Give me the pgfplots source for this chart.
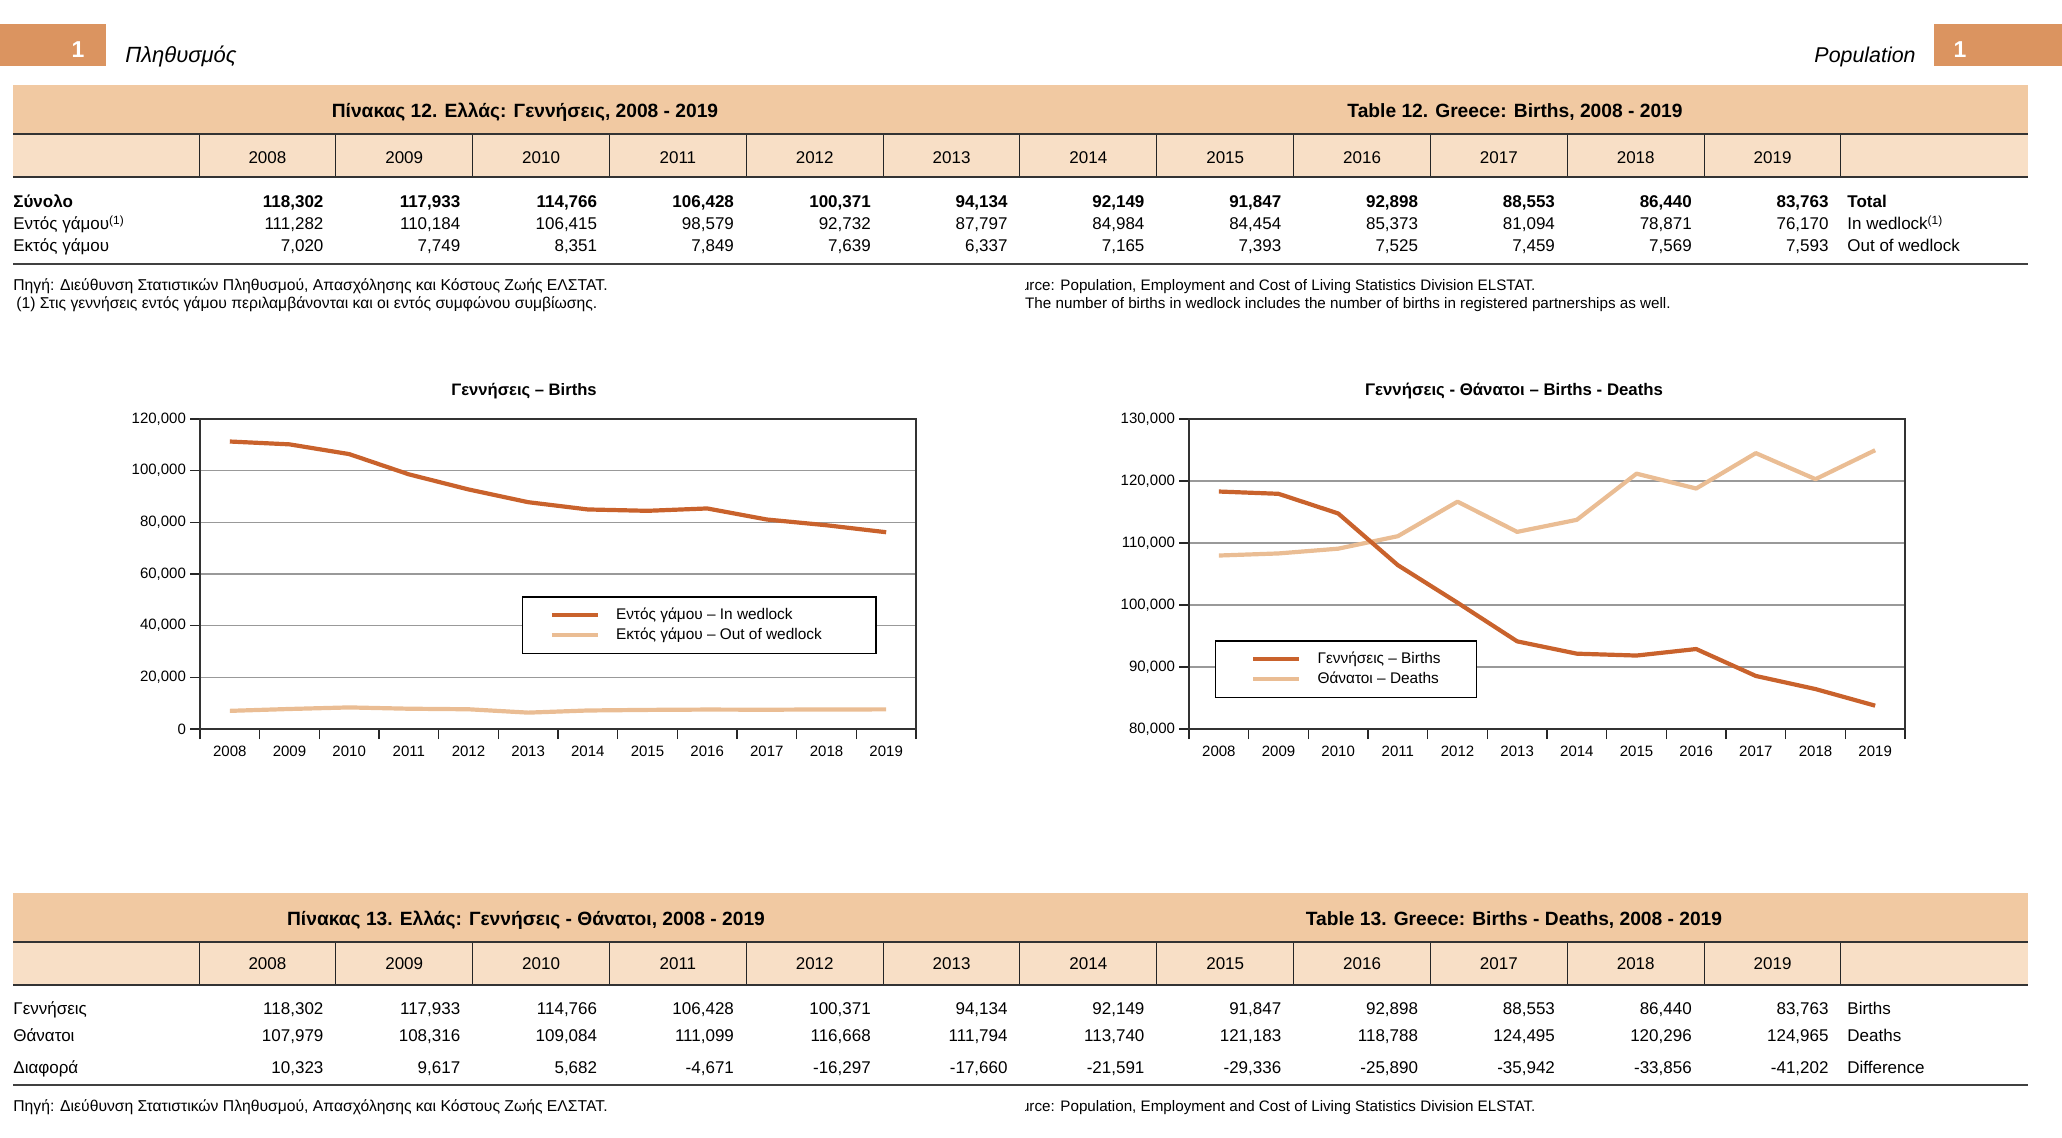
\documentclass[border=0pt]{standalone}
\usepackage{fontspec}
\setmainfont{Liberation Sans}
\usepackage{pgfplots}
\pgfplotsset{compat=1.18}
\definecolor{boxor}{HTML}{DB9460}
\definecolor{band}{HTML}{F1C9A2}
\definecolor{hdr}{HTML}{F8DFC6}
\definecolor{darkor}{HTML}{C9622C}
\definecolor{lightor}{HTML}{EABD94}
\newcommand\fs[1]{\fontsize{#1}{#1}\selectfont}
% one row of table numbers, right aligned in the 12 year columns
\newcommand\trow[3]{\foreach \v [count=\i] in {#3}
  \node[anchor=base east, inner sep=0pt, font=#1] at ({199+136.83*\i-12},#2) {\v};}
% header row: top edge, baseline of the years
\newcommand\thead[2]{%
  \fill[hdr] (13,#1) rectangle (2028,#1+43);
  \foreach \i in {0,...,12} \draw[line width=0.5pt, black!85] ({199+136.83*\i},#1) -- ({199+136.83*\i},#1+43);
  \draw[line width=1pt, black!80] (13,#1) -- (2028,#1);
  \draw[line width=1.1pt, black!80] (13,#1+43) -- (2028,#1+43);
  \foreach \y [count=\i] in {2008,...,2019}
    \node[anchor=base, inner sep=0pt, font=\fs{8.5}] at ({199+136.83*(\i-0.5)},#2) {\y};}

\pgfplotsset{
  pagechart/.style={
    scale only axis, width=358pt, height=155pt,
    xmin=0, xmax=12,
    xtick={0.5,1.5,...,11.5},
    xticklabels={2008,2009,2010,2011,2012,2013,2014,2015,2016,2017,2018,2019},
    major x tick style={draw=none},
    minor xtick={0,1,...,12},
    xtick pos=bottom, ytick pos=left,
    tick align=outside, major tick length=5pt, minor tick length=5pt,
    tick style={black!85, line width=0.6pt},
    ymajorgrids, grid style={black!40, line width=0.6pt},
    axis line style={black!80, line width=0.9pt},
    scaled y ticks=false,
    /pgf/number format/fixed,
    /pgf/number format/1000 sep={,},
    /pgf/number format/assume math mode=true,
    tick label style={font=\fs{7.5}},
    xticklabel style={yshift=0pt},
    yticklabel style={xshift=1.5pt},
    legend cell align=left,
    legend image code/.code={\draw[##1] (0pt,0pt) -- (23pt,0pt); \path (30pt,0pt);},
    every axis plot/.append style={line width=2.1pt, line join=round},
  },
}

\begin{document}
\begin{tikzpicture}
\begin{scope}[x=0.5pt,y=-0.5pt]
\path (0,0) rectangle (2062,1138);
% page header
\fill[boxor] (0,24) rectangle (106,66);
\node[anchor=base, text=white, inner sep=0pt, font=\fs{11.5}\bfseries] at (78,58) {1};
\node[anchor=base west, inner sep=0pt, font=\fs{11}\itshape] at (125,63) {Πληθυσμός};
\fill[boxor] (1934,24) rectangle (2062,66);
\node[anchor=base, text=white, inner sep=0pt, font=\fs{11.5}\bfseries] at (1960,58) {1};
\node[anchor=base east, inner sep=0pt, font=\fs{10.7}\itshape] at (1916,63) {Population};

% table 12
\fill[band] (13,85) rectangle (2028,134);
\node[anchor=base, inner sep=0pt, font=\fs{9.6}\bfseries] at (525,118) {Πίνακας 12. Ελλάς: Γεννήσεις, 2008 - 2019};
\node[anchor=base, inner sep=0pt, font=\fs{9.6}\bfseries] at (1515,118) {Table 12. Greece: Births, 2008 - 2019};
\thead{134}{164}
\node[anchor=base west, inner sep=0pt, font=\fs{8.5}\bfseries] at (13,208) {Σύνολο};
\node[anchor=base west, inner sep=0pt, font=\fs{8.5}] at (13,230) {Εντός γάμου\textsuperscript{(1)}};
\node[anchor=base west, inner sep=0pt, font=\fs{8.5}] at (13,252) {Εκτός γάμου};
\trow{\fs{8.5}\bfseries}{208}{{118,302},{117,933},{114,766},{106,428},{100,371},{94,134},{92,149},{91,847},{92,898},{88,553},{86,440},{83,763}}
\trow{\fs{8.5}}{230}{{111,282},{110,184},{106,415},{98,579},{92,732},{87,797},{84,984},{84,454},{85,373},{81,094},{78,871},{76,170}}
\trow{\fs{8.5}}{252}{{7,020},{7,749},{8,351},{7,849},{7,639},{6,337},{7,165},{7,393},{7,525},{7,459},{7,569},{7,593}}
\node[anchor=base west, inner sep=0pt, font=\fs{8.5}\bfseries] at (1847,208) {Total};
\node[anchor=base west, inner sep=0pt, font=\fs{8.5}] at (1847,230) {In wedlock\textsuperscript{(1)}};
\node[anchor=base west, inner sep=0pt, font=\fs{8.5}] at (1847,252) {Out of wedlock};
\draw[line width=1pt, black!75] (13,264) -- (2028,264);
\node[anchor=base west, inner sep=0pt, font=\fs{7.85}] at (13,291) {Πηγή: Διεύθυνση Στατιστικών Πληθυσμού, Απασχόλησης και Κόστους Ζωής ΕΛΣΤΑΤ.};
\node[anchor=base west, inner sep=0pt, font=\fs{7.85}] at (16,309) {(1) Στις γεννήσεις εντός γάμου περιλαμβάνονται και οι εντός συμφώνου συμβίωσης.};
\begin{scope}
\clip (1025,270) rectangle (2062,320);
\node[anchor=base west, inner sep=0pt, font=\fs{7.6}] at (1002,291) {Source: Population, Employment and Cost of Living Statistics Division ELSTAT.};
\node[anchor=base west, inner sep=0pt, font=\fs{7.6}] at (1002,309) {(1) The number of births in wedlock includes the number of births in registered partnerships as well.};
\end{scope}

% chart titles
\node[anchor=base, inner sep=0pt, font=\fs{8.3}\bfseries] at (524,396) {Γεννήσεις – Births};
\node[anchor=base, inner sep=0pt, font=\fs{8.4}\bfseries] at (1514,396) {Γεννήσεις - Θάνατοι – Births - Deaths};

% table 13
\fill[band] (13,893) rectangle (2028,942);
\node[anchor=base, inner sep=0pt, font=\fs{9.6}\bfseries] at (526,925) {Πίνακας 13. Ελλάς: Γεννήσεις - Θάνατοι, 2008 - 2019};
\node[anchor=base, inner sep=0pt, font=\fs{9.6}\bfseries] at (1514,925) {Table 13. Greece: Births - Deaths, 2008 - 2019};
\thead{942}{969}
\node[anchor=base west, inner sep=0pt, font=\fs{8.5}] at (13,1014) {Γεννήσεις};
\node[anchor=base west, inner sep=0pt, font=\fs{8.5}] at (13,1041) {Θάνατοι};
\node[anchor=base west, inner sep=0pt, font=\fs{8.5}] at (13,1073) {Διαφορά};
\trow{\fs{8.5}}{1014}{{118,302},{117,933},{114,766},{106,428},{100,371},{94,134},{92,149},{91,847},{92,898},{88,553},{86,440},{83,763}}
\trow{\fs{8.5}}{1041}{{107,979},{108,316},{109,084},{111,099},{116,668},{111,794},{113,740},{121,183},{118,788},{124,495},{120,296},{124,965}}
\trow{\fs{8.5}}{1073}{{10,323},{9,617},{5,682},{-4,671},{-16,297},{-17,660},{-21,591},{-29,336},{-25,890},{-35,942},{-33,856},{-41,202}}
\node[anchor=base west, inner sep=0pt, font=\fs{8.5}] at (1847,1014) {Births};
\node[anchor=base west, inner sep=0pt, font=\fs{8.5}] at (1847,1041) {Deaths};
\node[anchor=base west, inner sep=0pt, font=\fs{8.5}] at (1847,1073) {Difference};
\draw[line width=1pt, black!75] (13,1085) -- (2028,1085);
\node[anchor=base west, inner sep=0pt, font=\fs{7.85}] at (13,1111) {Πηγή: Διεύθυνση Στατιστικών Πληθυσμού, Απασχόλησης και Κόστους Ζωής ΕΛΣΤΑΤ.};
\begin{scope}
\clip (1025,1093) rectangle (2062,1130);
\node[anchor=base west, inner sep=0pt, font=\fs{7.6}] at (1002,1111) {Source: Population, Employment and Cost of Living Statistics Division ELSTAT.};
\end{scope}
\end{scope}

% chart 1: births in and out of wedlock
\begin{axis}[pagechart, at={(100pt,-364.5pt)}, anchor=south west,
  ymin=0, ymax=120000, ytick={0,20000,...,120000},
  legend style={at={(0.45,0.428)}, anchor=north west, draw=black, line width=0.6pt,
    inner xsep=13.5pt, inner ysep=4.5pt, font=\fs{7.7}, row sep=0.5pt,
    nodes={inner sep=1pt}},
  ]
\addplot[darkor] coordinates {(0.5,111282) (1.5,110184) (2.5,106415) (3.5,98579) (4.5,92732) (5.5,87797) (6.5,84984) (7.5,84454) (8.5,85373) (9.5,81094) (10.5,78871) (11.5,76170)};
\addlegendentry{\makebox[115.5pt][l]{Εντός γάμου – In wedlock}}
\addplot[lightor] coordinates {(0.5,7020) (1.5,7749) (2.5,8351) (3.5,7849) (4.5,7639) (5.5,6337) (6.5,7165) (7.5,7393) (8.5,7525) (9.5,7459) (10.5,7569) (11.5,7593)};
\addlegendentry{Εκτός γάμου – Out of wedlock}
\end{axis}

% chart 2: births and deaths
\begin{axis}[pagechart, at={(594.5pt,-364.5pt)}, anchor=south west,
  ymin=80000, ymax=130000, ytick={80000,90000,...,130000},
  reverse legend,
  legend style={at={(0.036,0.286)}, anchor=north west, draw=black, line width=0.6pt,
    inner xsep=18pt, inner ysep=4.5pt, font=\fs{7.7}, row sep=0.5pt,
    nodes={inner sep=1pt}},
  ]
\addplot[lightor] coordinates {(0.5,107979) (1.5,108316) (2.5,109084) (3.5,111099) (4.5,116668) (5.5,111794) (6.5,113740) (7.5,121183) (8.5,118788) (9.5,124495) (10.5,120296) (11.5,124965)};
\addlegendentry{Θάνατοι – Deaths}
\addplot[darkor] coordinates {(0.5,118302) (1.5,117933) (2.5,114766) (3.5,106428) (4.5,100371) (5.5,94134) (6.5,92149) (7.5,91847) (8.5,92898) (9.5,88553) (10.5,86440) (11.5,83763)};
\addlegendentry{\makebox[60pt][l]{Γεννήσεις – Births}}
\end{axis}
\end{tikzpicture}
\end{document}
